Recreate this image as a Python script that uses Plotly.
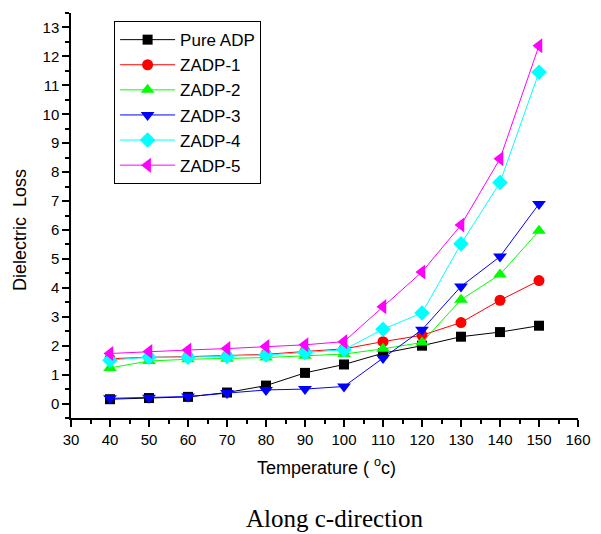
import plotly.graph_objects as go

temperature = [40, 50, 60, 70, 80, 90, 100, 110, 120, 130, 140, 150]
pure_adp = [0.15, 0.19, 0.23, 0.38, 0.62, 1.06, 1.35, 1.74, 2.00, 2.31, 2.47, 2.69]
zadp_1 = [1.55, 1.60, 1.62, 1.65, 1.70, 1.80, 1.89, 2.14, 2.36, 2.80, 3.57, 4.25]
zadp_2 = [1.23, 1.47, 1.53, 1.55, 1.59, 1.65, 1.71, 1.89, 2.11, 3.59, 4.46, 5.97]
zadp_3 = [0.18, 0.20, 0.24, 0.36, 0.47, 0.50, 0.59, 1.57, 2.55, 4.05, 5.08, 6.90]
zadp_4 = [1.50, 1.60, 1.60, 1.63, 1.68, 1.76, 1.86, 2.57, 3.13, 5.52, 7.64, 11.45]
zadp_5 = [1.73, 1.80, 1.85, 1.90, 1.97, 2.03, 2.14, 3.35, 4.55, 6.17, 8.46, 12.37]

series_names = ["Pure ADP", "ZADP-1", "ZADP-2", "ZADP-3", "ZADP-4", "ZADP-5"]
series_values = [pure_adp, zadp_1, zadp_2, zadp_3, zadp_4, zadp_5]
colors = ["#000000", "#FF0000", "#00FF00", "#0000FF", "#00FFFF", "#FF00FF"]
symbols = ["square", "circle", "triangle-up", "triangle-down", "diamond", "triangle-left"]
sizes = [10, 11, 12, 12, 12, 13]

x_ticks = list(range(30, 161, 10))
y_ticks = list(range(0, 14))

fig = go.Figure()
for name, vals, c, s, sz in zip(series_names, series_values, colors, symbols, sizes):
    fig.add_trace(go.Scatter(
        x=temperature, y=vals, name=name, mode="lines+markers",
        line=dict(color=c, width=1),
        marker=dict(symbol=s, size=sz, color=c),
    ))

# page body has an 8px margin; figure is sized/offset so the plot area lands
# at the reference pixel positions
fig.update_layout(
    width=593, height=526,
    margin=dict(l=63, r=23, t=5, b=116),
    plot_bgcolor="white", paper_bgcolor="white",
    font=dict(family="Liberation Sans, Arial", size=15, color="black"),
    showlegend=True,
    legend=dict(
        x=0.085, y=0.98, xanchor="left", yanchor="top",
        bordercolor="black", borderwidth=1, bgcolor="white",
        font=dict(size=17, family="Liberation Sans, Arial"),
        tracegroupgap=0, itemwidth=55,
    ),
    annotations=[
        dict(
            text="Along c-direction", xref="paper", yref="paper",
            x=0.52, y=(418 - 518) / 405, xanchor="center", yanchor="middle",
            showarrow=False,
            font=dict(family="Liberation Serif, Times New Roman", size=25, color="black"),
        ),
        dict(
            text="Temperature ( <sup>o</sup>c)", xref="paper", yref="paper",
            x=(326 - 71) / 507, y=(418 - 466) / 405, xanchor="center", yanchor="middle",
            showarrow=False,
            font=dict(size=18, color="black"),
        ),
        dict(
            text="Dielectric\u00a0 Loss", xref="paper", yref="paper",
            x=(20 - 71) / 507, y=(418 - 230) / 405, xanchor="center", yanchor="middle",
            showarrow=False, textangle=-90,
            font=dict(size=18, color="black"),
        ),
    ],
)

fig.update_xaxes(
    range=[30, 160], tickvals=x_ticks, ticktext=[str(v) for v in x_ticks],
    showline=True, linecolor="black", linewidth=1.5, mirror=False,
    ticks="outside", ticklen=7, tickwidth=1.5, tickcolor="black",
    minor=dict(dtick=5, tick0=30, ticks="outside", ticklen=4, tickwidth=1.5, tickcolor="black"),
    showgrid=False, zeroline=False, automargin=False,
    tickfont=dict(size=15),
)
fig.update_yaxes(
    range=[-0.5, 13.5], tickvals=y_ticks, ticktext=[str(v) for v in y_ticks],
    showline=True, linecolor="black", linewidth=1.5, mirror=False,
    ticks="outside", ticklen=7, tickwidth=1.5, tickcolor="black",
    minor=dict(dtick=0.5, tick0=0, ticks="outside", ticklen=4, tickwidth=1.5, tickcolor="black"),
    showgrid=False, zeroline=False, automargin=False,
    tickfont=dict(size=15),
)

fig.write_html("out.html")
